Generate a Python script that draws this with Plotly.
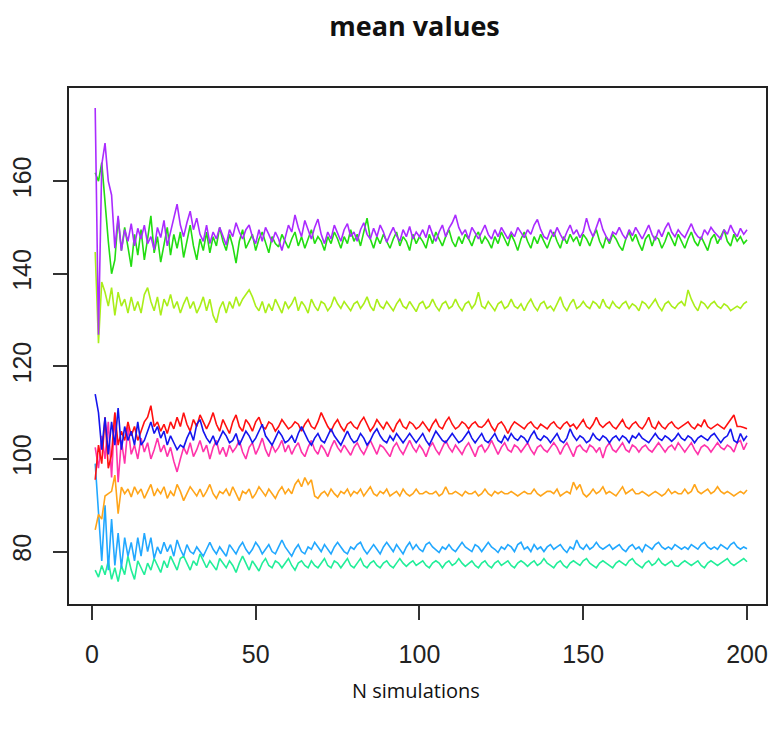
import plotly.graph_objects as go

purple = [
175.8, 126.8, 163.5, 168.2, 160.0, 157.0, 145.5, 152.5, 145.0, 149.5, 147.0, 150.8, 146.0, 149.8, 147.5, 150.5, 146.5, 148.0, 145.2, 150.0,
147.8, 151.5, 146.0, 149.0, 152.0, 155.0, 150.5, 148.0, 151.0, 153.5, 149.5, 152.0, 148.5, 147.0, 150.5, 146.5, 149.0, 147.5, 150.0, 148.0,
146.2, 149.5, 148.0, 151.0, 149.0, 147.5, 149.5, 150.5, 148.0, 146.5, 149.5, 147.0, 150.0, 148.5, 146.8, 149.0, 147.5, 145.0, 147.8, 150.5,
149.0, 152.7, 150.0, 148.0, 151.5, 149.5, 147.5, 150.0, 151.8, 148.5, 146.5, 149.0, 147.5, 150.5, 148.8, 147.0, 149.5, 150.8, 148.0, 149.0,
147.0, 149.5, 151.0, 148.5, 147.5, 149.8, 148.0, 150.5, 149.0, 146.8, 148.5, 150.0, 148.2, 147.0, 149.5, 148.0, 150.2, 147.5, 149.0, 148.0,
149.5, 147.8, 150.5, 148.5, 147.0, 149.0, 150.5, 148.0, 149.8, 151.0, 152.7, 150.0, 148.5, 149.5, 147.5, 150.0, 148.8, 147.5, 149.0, 150.5,
148.5, 147.5, 149.5, 148.0, 150.0, 148.8, 147.5, 149.0, 148.0, 150.0, 149.0, 147.8, 149.5, 148.5, 150.5, 151.7, 149.5, 148.0, 147.5, 149.5,
148.0, 150.0, 148.5, 147.2, 149.0, 150.5, 148.5, 149.5, 147.8, 149.0, 152.0, 149.5, 148.0, 150.0, 152.0, 149.5, 148.0, 147.0, 149.0, 148.5,
150.0, 148.5, 147.5, 149.5, 148.2, 150.0, 148.8, 147.5, 149.0, 150.5, 148.5, 147.2, 149.5, 148.0, 149.8, 151.0, 149.0, 148.0, 149.5, 148.5,
147.8, 149.5, 150.8, 149.0, 148.0, 147.5, 149.5, 148.5, 150.0, 149.0, 148.2, 147.5, 149.5, 148.5, 150.5, 149.0, 148.0, 149.8, 148.5, 149.5,
]

green = [
161.8, 160.0, 164.0, 155.0, 147.0, 140.0, 143.0, 152.0, 145.0, 150.0, 146.0, 141.5, 148.5, 144.0, 149.5, 143.0, 147.5, 152.5, 144.5, 148.0,
142.5, 146.0, 150.0, 144.0, 148.5, 145.5, 149.0, 143.5, 147.0, 150.5, 146.0, 143.0, 147.5, 145.0, 149.0, 144.5, 148.0, 146.0, 150.0, 147.0,
145.0, 148.5, 146.0, 142.3, 147.0, 149.5, 145.5, 147.0, 148.5, 145.0, 147.5, 149.0, 146.5, 144.5, 148.0, 146.5, 145.8, 148.5, 147.0, 145.5,
147.5, 149.0, 146.0, 148.0, 145.5, 147.5, 149.5, 146.5, 148.0, 147.0, 145.0, 148.0, 146.5, 149.0, 147.5, 145.5, 148.0, 146.5, 149.5, 147.0,
148.5, 146.0, 149.0, 152.0, 147.5, 145.5, 148.0, 146.5, 148.5, 147.0, 145.5, 147.5, 149.0, 146.0, 148.0, 147.0, 145.0, 148.5, 146.5, 148.0,
147.0, 145.5, 148.5, 146.5, 149.0, 147.5, 146.0, 148.0, 149.5, 147.0, 145.8, 148.0, 146.5, 148.5, 147.5, 146.0, 148.0, 149.0, 146.5, 148.0,
147.0, 145.5, 148.0, 146.5, 149.0, 147.5, 146.0, 148.5, 147.0, 145.0, 147.5, 149.0, 147.0, 145.5, 148.0, 146.5, 148.5, 147.0, 145.5, 147.5,
149.0, 147.0, 145.5, 148.0, 146.5, 148.5, 147.0, 148.0, 146.0, 148.5, 147.5, 146.0, 148.0, 149.5, 147.0, 145.5, 148.0, 146.5, 148.5, 147.5,
146.0, 145.0, 147.5, 149.0, 147.0, 148.5, 146.5, 145.0, 147.5, 148.5, 146.0, 148.0, 147.5, 145.5, 147.0, 149.0, 147.5, 146.0, 148.5, 147.0,
145.5, 147.5, 149.0, 147.0, 146.0, 148.0, 146.5, 145.0, 147.5, 148.5, 146.5, 148.0, 149.5, 147.0, 146.0, 148.5, 147.0, 148.0, 146.5, 147.3,
]

yellowgreen = [
144.7, 125.0, 138.2, 136.0, 133.0, 137.0, 131.0, 136.0, 133.0, 134.5, 131.5, 135.0, 132.0, 134.0, 131.5, 135.5, 137.0, 134.0, 132.0, 135.0,
131.0, 134.5, 133.0, 135.5, 132.5, 134.0, 131.5, 133.5, 135.0, 132.5, 134.0, 131.5, 133.0, 135.0, 132.0, 134.5, 131.0, 129.4, 132.5, 134.0,
131.5, 134.0, 132.5, 135.0, 133.0, 134.5, 135.5, 136.5, 135.0, 133.0, 132.0, 134.0, 131.5, 133.5, 132.0, 134.5, 133.0, 131.5, 134.0, 132.5,
133.5, 135.0, 132.0, 134.0, 133.0, 131.5, 134.5, 133.0, 132.0, 134.0, 133.5, 132.0, 133.0, 135.0, 133.5, 132.5, 134.0, 133.0, 132.0, 133.5,
134.0, 132.5, 133.5, 135.0, 133.0, 132.0, 134.5, 133.0, 132.5, 134.0, 133.0, 132.0, 133.5, 134.5, 133.0, 132.5, 134.0, 133.0, 131.8, 133.5,
134.0, 132.5, 133.0, 134.5, 133.0, 132.0, 133.5, 134.0, 132.5, 133.0, 134.5, 133.0, 132.0, 133.5, 134.0, 132.5, 133.5, 136.0, 133.0, 132.5,
134.0, 133.0, 132.0, 133.5, 134.0, 132.5, 133.0, 134.5, 133.0, 132.5, 133.5, 132.0, 133.5, 134.5, 133.0, 132.0, 133.5, 134.0, 132.5, 133.0,
132.0, 133.5, 135.0, 133.0, 132.0, 133.5, 134.5, 132.5, 133.0, 134.0, 133.0, 132.5, 134.0, 133.5, 132.5, 134.5, 133.0, 132.5, 134.0, 133.0,
132.5, 133.5, 134.0, 132.5, 133.5, 133.0, 132.0, 134.0, 133.5, 132.5, 133.5, 134.5, 133.0, 132.0, 133.5, 134.0, 133.0, 132.5, 133.5, 134.0,
133.0, 136.5, 134.5, 133.0, 132.0, 134.0, 133.5, 132.5, 133.5, 134.0, 133.0, 132.5, 133.5, 133.0, 132.0, 132.5, 133.0, 132.5, 133.5, 134.0,
]

red = [
95.5, 103.0, 99.0, 109.0, 98.0, 101.0, 110.0, 103.0, 106.0, 104.0, 108.0, 105.0, 107.0, 104.0, 106.0, 108.0, 109.0, 111.5, 107.0, 108.0,
106.0, 107.5, 105.5, 108.0, 106.5, 109.0, 107.0, 110.0, 107.5, 106.0, 108.5, 107.0, 109.5, 108.0, 106.5, 108.0, 110.0, 107.5, 106.0, 108.5,
107.0, 105.5, 108.0, 109.5, 107.0, 106.0, 108.5, 107.5, 106.0, 108.0, 109.0, 107.0, 106.5, 108.0, 107.5, 106.0, 107.0, 108.5, 107.5, 106.5,
107.0, 108.0, 107.5, 106.0, 107.5, 108.5, 107.0, 106.5, 108.0, 110.0, 108.5, 107.0, 106.0, 107.5, 108.5, 107.0, 106.0, 107.5, 108.0, 107.0,
106.5, 108.0, 109.0, 107.5, 106.0, 107.0, 108.5, 107.5, 106.5, 108.0, 107.0, 105.8, 107.5, 108.5, 107.0, 106.5, 108.0, 107.5, 106.5, 107.0,
108.0, 107.0, 106.0, 107.5, 108.5, 107.0, 106.5, 108.0, 109.0, 107.5, 106.5, 107.0, 108.0, 107.5, 106.5, 107.5, 108.0, 107.0, 106.8, 107.5,
108.5, 107.0, 106.0, 107.5, 108.0, 107.0, 105.5, 107.0, 108.0, 107.5, 107.0, 106.5, 107.5, 108.0, 107.0, 106.5, 107.5, 107.0, 106.5, 107.5,
108.0, 107.0, 106.5, 107.5, 108.0, 107.0, 107.5, 106.5, 107.5, 108.5, 107.0, 106.5, 107.5, 109.0, 107.5, 106.8, 107.5, 108.0, 107.0, 106.5,
107.5, 108.5, 107.0, 106.5, 107.5, 108.0, 107.0, 106.5, 107.5, 109.0, 107.0, 106.5, 108.0, 107.0, 106.5, 107.5, 108.0, 107.0, 106.5, 107.0,
107.5, 108.0, 107.0, 106.5, 107.5, 107.0, 108.5, 107.0, 106.5, 107.0, 107.5, 107.0, 106.5, 107.5, 108.5, 109.5, 107.0, 107.0, 106.8, 106.5,
]

blue = [
114.0, 110.0, 102.0, 109.0, 101.0, 108.0, 103.0, 111.0, 102.0, 107.0, 104.0, 106.0, 103.0, 108.0, 103.0, 104.0, 106.0, 108.0, 105.5, 107.0,
104.5, 106.0, 103.0, 105.0, 103.5, 102.0, 103.0, 102.5, 104.5, 106.0, 104.0, 107.5, 108.5, 106.0, 104.5, 103.5, 105.0, 103.0, 104.5, 106.0,
105.0, 103.5, 104.0, 105.5, 103.0, 104.5, 106.0, 105.0, 103.5, 104.5, 106.0, 107.5, 105.0, 104.0, 103.0, 104.5, 106.0, 105.0, 103.5, 104.0,
105.0, 103.5, 105.5, 107.0, 105.5, 104.0, 103.0, 104.5, 105.5, 104.0, 103.5, 105.0, 106.5, 105.0, 104.0, 103.0, 104.5, 106.0, 104.5, 103.5,
104.0, 105.5, 104.5, 103.0, 104.0, 105.5, 106.5, 105.0, 104.0, 103.5, 105.0, 104.0, 105.5, 104.5, 103.5, 104.5, 105.5, 104.5, 103.5, 104.5,
105.5, 104.0, 103.0, 104.5, 106.0, 105.0, 104.0, 103.5, 104.5, 105.5, 104.5, 103.5, 104.0, 105.0, 106.0, 104.5, 103.5, 104.5, 105.5, 104.0,
103.5, 104.5, 105.5, 104.0, 103.5, 105.0, 104.0, 105.5, 104.5, 104.0, 105.0, 104.5, 103.5, 105.0, 106.0, 104.5, 104.0, 105.0, 104.5, 103.5,
104.5, 105.5, 104.0, 103.5, 104.5, 106.5, 105.0, 104.0, 105.0, 104.5, 103.5, 104.0, 105.5, 104.5, 104.0, 105.0, 104.5, 103.5, 104.5, 105.0,
104.0, 105.0, 104.5, 103.5, 105.0, 104.5, 105.5, 104.5, 104.0, 103.5, 104.5, 105.5, 104.5, 104.0, 105.0, 104.5, 103.8, 104.5, 105.5, 104.5,
104.0, 105.0, 104.5, 103.5, 104.5, 105.0, 104.5, 104.0, 105.0, 105.5, 104.5, 103.5, 104.5, 105.0, 106.5, 104.0, 103.5, 105.5, 104.0, 105.0,
]

pink = [
102.5, 98.0, 105.0, 100.0, 108.0, 96.0, 110.0, 95.0, 104.0, 99.0, 107.0, 101.0, 103.0, 100.0, 104.5, 101.5, 103.5, 100.0, 102.0, 104.5,
101.5, 103.0, 100.5, 102.5, 99.5, 97.2, 100.0, 102.5, 101.0, 103.5, 100.5, 102.0, 104.0, 101.5, 103.0, 100.0, 102.5, 104.0, 101.0, 102.5,
100.5, 103.0, 101.5, 102.5, 104.0, 101.5, 100.0, 102.5, 103.5, 101.0, 102.5, 104.5, 102.0, 100.5, 103.0, 101.5, 102.5, 104.0, 101.5, 103.0,
101.0, 102.5, 103.5, 101.5, 100.5, 102.5, 104.0, 102.0, 101.0, 103.0, 102.0, 100.5, 102.5, 104.0, 102.5, 101.5, 103.0, 102.0, 100.8, 102.5,
103.5, 102.0, 101.0, 102.5, 104.0, 102.5, 101.0, 103.0, 102.5, 101.5, 100.5, 102.5, 103.5, 102.0, 101.0, 102.5, 104.0, 102.5, 101.5, 103.0,
102.0, 100.5, 102.5, 103.5, 102.0, 101.0, 102.5, 104.0, 102.5, 101.5, 103.0, 102.0, 101.0, 102.5, 103.5, 102.0, 100.5, 102.5, 103.0, 101.5,
102.5, 104.0, 102.5, 101.0, 102.5, 103.5, 102.0, 101.5, 103.0, 102.5, 101.5, 102.5, 103.5, 102.0, 101.0, 102.5, 103.0, 102.0, 101.5, 102.5,
103.5, 102.5, 101.0, 102.5, 103.5, 102.0, 100.5, 102.5, 103.0, 102.0, 101.5, 103.0, 102.5, 101.5, 102.5, 100.2, 102.5, 103.5, 102.0, 101.5,
102.5, 103.5, 102.0, 101.5, 103.0, 102.5, 101.5, 102.5, 103.0, 102.0, 101.5, 102.5, 103.5, 102.5, 101.5, 102.5, 103.0, 102.0, 103.5, 102.5,
101.5, 102.5, 103.5, 102.0, 101.0, 102.5, 103.0, 102.5, 101.5, 102.5, 103.5, 102.5, 102.0, 103.0, 102.5, 101.5, 103.5, 104.0, 102.0, 103.5,
]

orange = [
84.7, 88.0, 87.0, 92.0, 92.5, 93.0, 96.5, 88.2, 93.9, 92.5, 93.5, 91.8, 94.0, 92.5, 93.5, 91.5, 93.0, 94.5, 92.0, 93.5,
92.5, 94.0, 91.5, 93.0, 92.0, 94.5, 93.0, 91.0, 92.5, 94.0, 93.0, 92.0, 93.5, 91.8, 93.0, 94.5, 92.5, 91.5, 93.0, 92.5,
93.5, 92.0, 94.0, 92.5, 91.0, 93.0, 92.5, 93.5, 91.5, 92.5, 94.0, 93.0, 92.0, 93.5, 92.5, 91.5, 93.0, 94.0, 92.5, 93.5,
92.5, 94.5, 95.5, 94.0, 96.0, 94.5, 95.5, 92.0, 91.5, 92.5, 93.0, 92.0, 93.5, 92.5, 91.8, 93.0, 92.5, 93.5, 92.0, 93.0,
92.5, 93.5, 92.0, 93.0, 94.0, 92.5, 92.0, 93.0, 92.5, 93.5, 92.0, 92.5, 93.0, 92.0, 93.5, 92.5, 92.0, 92.5, 93.5, 92.5,
92.5, 93.0, 92.5, 92.5, 93.0, 92.0, 92.5, 94.0, 92.5, 92.5, 93.0, 92.5, 92.0, 93.0, 92.5, 92.5, 93.0, 92.0, 92.5, 93.5,
92.5, 92.0, 93.0, 92.5, 93.0, 92.5, 92.5, 93.0, 92.5, 92.0, 92.5, 93.0, 92.5, 92.5, 93.5, 92.5, 92.0, 92.5, 93.0, 93.0,
92.5, 93.5, 92.0, 92.5, 93.0, 92.5, 95.0, 93.5, 94.5, 92.5, 91.8, 92.5, 93.5, 92.5, 93.0, 94.0, 92.5, 93.0, 92.5, 92.0,
93.0, 94.0, 92.5, 93.0, 93.5, 92.5, 92.5, 93.0, 92.5, 92.0, 92.5, 93.0, 92.5, 92.0, 92.5, 93.5, 92.5, 93.0, 92.5, 92.5,
93.5, 92.5, 93.0, 94.5, 93.0, 92.5, 93.0, 93.5, 92.5, 93.0, 94.0, 93.0, 92.5, 93.0, 92.5, 92.0, 92.5, 93.0, 92.5, 93.3,
]

lightblue = [
99.0, 89.0, 78.0, 90.0, 76.0, 87.0, 77.0, 84.0, 76.5, 83.0, 79.0, 82.0, 78.0, 83.0, 79.0, 84.0, 80.0, 83.0, 78.5, 81.0,
79.5, 82.0, 80.0, 81.5, 79.0, 82.5, 80.5, 79.0, 81.5, 80.0, 79.5, 81.0, 80.0, 79.0, 80.5, 82.0, 80.5, 79.5, 81.0, 80.0,
79.0, 81.5, 80.5, 79.5, 81.0, 82.0, 80.5, 79.5, 80.5, 82.0, 81.0, 79.5, 80.5, 81.5, 80.0, 79.5, 81.0, 82.5, 81.0, 80.0,
79.0, 80.5, 81.5, 80.0, 79.5, 81.0, 80.5, 82.0, 81.0, 80.0, 81.5, 80.5, 79.5, 81.0, 82.0, 81.0, 80.0, 79.5, 81.0, 80.5,
81.5, 82.0, 80.5, 79.5, 80.5, 81.5, 80.5, 79.5, 81.0, 82.0, 81.0, 80.0, 81.5, 80.5, 79.5, 81.0, 82.0, 80.5, 81.5, 80.5,
80.0, 81.5, 82.0, 81.0, 80.5, 79.8, 81.0, 80.5, 81.5, 80.5, 80.0, 81.0, 82.0, 81.0, 80.5, 80.0, 81.5, 81.0, 80.0, 81.0,
82.0, 81.0, 80.5, 79.8, 81.0, 80.5, 81.5, 81.0, 80.0, 81.5, 82.0, 80.5, 81.0, 80.0, 81.5, 80.5, 81.0, 80.0, 81.0, 81.5,
80.5, 81.0, 81.5, 80.5, 79.8, 81.0, 80.5, 82.5, 81.0, 80.5, 81.5, 80.5, 81.0, 82.0, 81.0, 80.5, 81.0, 81.5, 80.5, 81.0,
81.5, 80.5, 80.0, 81.0, 81.5, 80.5, 81.0, 80.0, 81.5, 81.0, 80.5, 81.5, 82.0, 81.0, 80.5, 81.0, 80.5, 81.5, 81.0, 80.5,
81.0, 80.5, 81.5, 81.0, 80.5, 81.5, 82.0, 81.0, 80.5, 81.0, 80.5, 81.5, 81.0, 80.5, 81.5, 82.0, 81.0, 80.5, 81.0, 80.6,
]

aquamarine = [
76.0, 74.5, 77.0, 75.0, 78.0, 74.0, 76.5, 73.5, 77.0, 75.0, 79.0, 76.0, 74.0, 78.0, 76.5, 75.0, 77.5, 76.0, 78.5, 77.0,
75.5, 78.0, 76.5, 79.0, 77.5, 76.0, 78.5, 79.0, 77.5, 76.0, 78.0, 77.0, 79.5, 78.0, 76.5, 78.0, 77.0, 76.0, 78.5, 77.5,
76.5, 78.0, 77.0, 75.5, 77.5, 79.0, 77.5, 76.0, 78.0, 77.0, 75.8, 77.5, 78.5, 77.0, 76.5, 78.0, 77.5, 76.5, 77.5, 78.5,
77.0, 76.0, 77.5, 78.0, 77.0, 76.5, 78.0, 77.0, 76.5, 77.5, 78.5, 77.0, 76.5, 78.0, 77.5, 76.5, 77.5, 78.5, 77.0, 76.5,
77.5, 78.5, 77.0, 76.5, 77.5, 78.0, 77.0, 76.5, 77.5, 78.0, 77.0, 76.5, 77.5, 78.5, 77.5, 76.8, 77.5, 78.0, 77.0, 77.5,
78.0, 77.0, 76.5, 77.5, 78.0, 77.5, 76.5, 77.5, 78.0, 77.0, 77.5, 78.5, 77.5, 76.8, 77.5, 78.0, 77.0, 76.5, 77.5, 78.0,
77.0, 76.5, 77.5, 78.0, 77.0, 77.5, 78.0, 77.0, 76.5, 77.5, 78.0, 77.5, 76.8, 77.5, 78.0, 77.0, 77.5, 78.5, 77.5, 77.0,
76.5, 77.5, 78.0, 77.0, 76.5, 77.5, 78.0, 77.5, 77.0, 78.0, 78.5, 77.5, 77.0, 76.5, 77.5, 78.0, 77.5, 77.0, 76.5, 77.5,
78.0, 77.5, 77.0, 78.0, 78.5, 77.5, 77.0, 76.5, 77.5, 78.0, 77.0, 77.5, 78.5, 77.5, 77.0, 77.5, 78.0, 77.0, 76.8, 77.5,
78.0, 77.5, 77.0, 77.5, 78.0, 77.0, 76.5, 77.5, 78.0, 77.5, 77.0, 77.5, 78.0, 78.5, 77.5, 77.0, 77.5, 78.0, 78.5, 77.8,
]

series = [
    ("aquamarine", aquamarine, "#22EE99"),
    ("lightblue", lightblue, "#22A8FF"),
    ("orange", orange, "#FFA51A"),
    ("pink", pink, "#FF33AA"),
    ("red", red, "#FF1010"),
    ("blue", blue, "#1515EE"),
    ("yellowgreen", yellowgreen, "#AAEE1A"),
    ("green", green, "#22DD11"),
    ("purple", purple, "#AA2BFF"),
]

x_ticks = [0, 50, 100, 150, 200]
y_ticks = [80, 100, 120, 140, 160]

fig = go.Figure()
for name, vals, col in series:
    fig.add_trace(go.Scatter(
        x=list(range(1, len(vals) + 1)), y=vals, mode="lines", name=name,
        line=dict(color=col, width=1.6), showlegend=False,
    ))

W, H = 771, 731
tickfont = dict(family="Liberation Sans, Arial, sans-serif", size=25, color="#222222")
fig.update_layout(
    width=W, height=H,
    margin=dict(l=69, r=3, t=88, b=127),
    paper_bgcolor="white", plot_bgcolor="white",
    title=dict(text="<b>mean values</b>", x=414.5 / W, xanchor="center",
               y=1 - 27 / H, yanchor="middle", yref="container",
               font=dict(family="Open Sans, sans-serif", size=27, color="#111111")),
    xaxis=dict(range=[-7.0, 205.8], tickvals=x_ticks, ticks="outside", ticklen=14,
               tickwidth=1.5, tickcolor="#333333", showline=True, mirror=True,
               linecolor="#222222", linewidth=1.5, showgrid=False, zeroline=False,
               tickfont=tickfont, ticklabelstandoff=13),
    yaxis=dict(range=[68.68, 180.1], tickvals=y_ticks, ticks="outside", ticklen=14,
               tickwidth=1.5, tickcolor="#333333", showline=True, mirror=True,
               linecolor="#222222", linewidth=1.5, showgrid=False, zeroline=False,
               tickfont=tickfont, tickangle=-90, ticklabelstandoff=12),
    annotations=[dict(text="N simulations", xref="paper", yref="paper",
                      x=0.498, y=(604 - 690) / 516, xanchor="center", yanchor="middle",
                      showarrow=False,
                      font=dict(family="Open Sans, sans-serif", size=20, color="#111111"))],
)

# Remove the browser's default 8px body margin so the figure fills the window.
fig.write_html("out.html",
               config={"displayModeBar": False},
               post_script="document.body.style.margin='0';document.body.style.overflow='hidden';")
